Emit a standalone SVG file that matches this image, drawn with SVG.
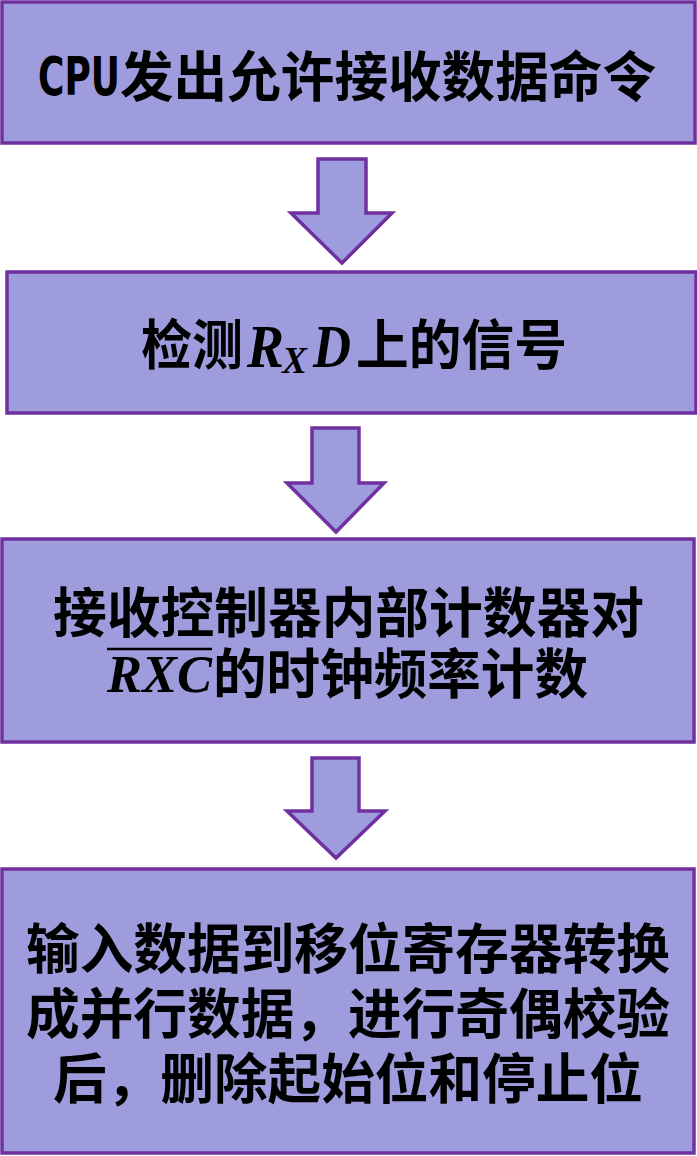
<svg xmlns="http://www.w3.org/2000/svg" width="697" height="1156" viewBox="0 0 697 1156">
<style>
.box{fill:#9e9cdd;stroke:#7030a0;stroke-width:3.5}
.arr{fill:#9e9cdd;stroke:#7030a0;stroke-width:3.5;stroke-linejoin:miter}
.cjk{font-family:"Noto Sans CJK SC","Noto Sans",sans-serif;font-weight:bold;font-size:54px;fill:#000}
.lat{font-family:"DejaVu Sans Condensed","DejaVu Sans",sans-serif;font-weight:bold;font-size:54px;fill:#000}
.math{font-family:"Liberation Serif",serif;font-style:italic;font-weight:bold;fill:#000}
</style>
<rect width="697" height="1156" fill="#fff"/>
<g id="connectors">
<path class="arr" d="M318,159 H366 V213 H392 L342,263 L291,213 H318 Z"/>
<path class="arr" d="M312,428 H359 V483 H384 L336,532 L287,483 H312 Z"/>
<path class="arr" d="M312,758 H359 V811 H385 L336,858 L287,811 H312 Z"/>
</g>
<g id="node1">
<rect class="box" x="2" y="2" width="693" height="141"/>
<text class="lat" x="38" y="95" textLength="82" lengthAdjust="spacingAndGlyphs">CPU</text>
<text class="cjk" x="120" y="97" textLength="536" lengthAdjust="spacingAndGlyphs">发出允许接收数据命令</text>
</g>
<g id="node2">
<rect class="box" x="7" y="272" width="689" height="141"/>
<text class="cjk" x="141" y="365" textLength="102" lengthAdjust="spacingAndGlyphs">检测</text>
<text class="math" x="247" y="367" font-size="62" textLength="37" lengthAdjust="spacingAndGlyphs">R</text>
<text class="math" x="282" y="373" font-size="38" textLength="25" lengthAdjust="spacingAndGlyphs">X</text>
<text class="math" x="313" y="367" font-size="62" textLength="38" lengthAdjust="spacingAndGlyphs">D</text>
<text class="cjk" x="356" y="365" textLength="211" lengthAdjust="spacingAndGlyphs">上的信号</text>
</g>
<g id="node3">
<rect class="box" x="2" y="539" width="692" height="203"/>
<text class="cjk" x="53" y="633" textLength="591" lengthAdjust="spacingAndGlyphs">接收控制器内部计数器对</text>
<line x1="107" y1="649" x2="212" y2="649" stroke="#000" stroke-width="2.5"/>
<text class="math" x="107" y="692" font-size="53" textLength="105" lengthAdjust="spacingAndGlyphs">RXC</text>
<text class="cjk" x="213" y="694" textLength="375" lengthAdjust="spacingAndGlyphs">的时钟频率计数</text>
</g>
<g id="node4">
<rect class="box" x="2" y="869" width="692" height="284"/>
<text class="cjk" x="26" y="969" textLength="644" lengthAdjust="spacingAndGlyphs">输入数据到移位寄存器转换</text>
<text class="cjk" x="26" y="1034" textLength="644" lengthAdjust="spacingAndGlyphs">成并行数据，进行奇偶校验</text>
<text class="cjk" x="53" y="1099" textLength="590" lengthAdjust="spacingAndGlyphs">后，删除起始位和停止位</text>
</g>
</svg>
